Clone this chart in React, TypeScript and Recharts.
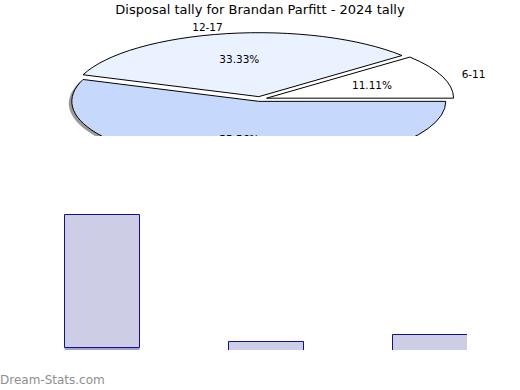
import { PieChart, Pie, BarChart, Bar, XAxis, YAxis } from 'recharts';

// pie: disposal count bins
const sliceNames = ['6-11', '12-17', '18-23'];
const sliceValues = [1, 3, 5];
const sliceColors = ['#ffffff', '#ebf2ff', '#c6d9fd'];

// bar panel (only its upper part shows in the picture)
const barNames = ['6-11', '12-17', '18-23'];
const barValues = [133, 39, 46];
const barBase = [33, 0, 0];

const pieData = sliceNames.map((name, i) => ({ name, value: sliceValues[i] }));
const barData = barNames.map((name, i) => ({ name, value: barValues[i], base: barBase[i] }));

const FONT = '"DejaVu Sans", Verdana, sans-serif';
const RAD = Math.PI / 180;
const K = 0.342; // vertical squash of the flat pie
const EXPLODE = 7;

const renderSlice = (props: any) => {
  const { cx, cy, startAngle, endAngle, midAngle, outerRadius, index, percent, name } = props;
  const ox = cx + EXPLODE * Math.cos(midAngle * RAD);
  const oy = cy - EXPLODE * K * Math.sin(midAngle * RAD);
  const pt = (x0: number, y0: number, r: number, a: number) => [x0 + r * Math.cos(a * RAD), y0 - r * K * Math.sin(a * RAD)];
  const path = (x0: number, y0: number) => {
    const [x1, y1] = pt(x0, y0, outerRadius, startAngle);
    const [x2, y2] = pt(x0, y0, outerRadius, endAngle);
    const large = Math.abs(endAngle - startAngle) > 180 ? 1 : 0;
    return `M${x0},${y0} L${x1},${y1} A${outerRadius},${outerRadius * K} 0 ${large} 0 ${x2},${y2} Z`;
  };
  const [ix, iy] = pt(ox, oy, outerRadius * 0.6, midAngle);
  const [tx, ty] = pt(ox, oy, outerRadius * 1.11, midAngle);
  const lower = midAngle > 180;
  return (
    <g key={`slice-${index}`}>
      {lower && <path d={path(ox - 3, oy + 2)} fill="#9a9a9a" stroke="none" />}
      <path d={path(ox, oy)} fill={sliceColors[index]} stroke="#000" strokeWidth={1} />
      <text x={ix} y={iy} textAnchor="middle" dominantBaseline="central" fontSize={10.5} fontFamily={FONT} fill="#000">
        {(percent * 100).toFixed(2)}%
      </text>
      <text x={tx} y={ty} textAnchor={Math.cos(midAngle * RAD) >= 0 ? 'start' : 'end'} dominantBaseline="central" fontSize={10.5} fontFamily={FONT} fill="#000">
        {name}
      </text>
    </g>
  );
};

export default function App() {
  return (
    <div style={{ position: 'absolute', left: 0, top: 0, width: 520, height: 390, background: '#fff', overflow: 'hidden', fontFamily: FONT }}>
      <div style={{ position: 'absolute', left: 0, top: 0, width: 467, height: 350, overflow: 'hidden' }}>
        <BarChart width={520} height={400} data={barData} margin={{ top: 180.5, right: 8.5, bottom: 19.5, left: 19.5 }}>
          <XAxis dataKey="name" hide />
          <YAxis hide domain={[0, 200]} />
          <Bar dataKey="base" stackId="a" fill="#a3a3cc" barSize={75} isAnimationActive={false} />
          <Bar dataKey="value" stackId="a" fill="#cdcde6" stroke="#101099" strokeWidth={1} barSize={75} isAnimationActive={false} />
        </BarChart>
      </div>
      <div style={{ position: 'absolute', left: 0, top: 0, width: 520, height: 136, overflow: 'hidden' }}>
        <PieChart width={520} height={136} margin={{ top: 0, right: 0, bottom: 0, left: 0 }}>
          <Pie
            data={pieData}
            dataKey="value"
            nameKey="name"
            cx={260}
            cy={99}
            outerRadius={187}
            startAngle={0}
            endAngle={360}
            fill="none"
            stroke="none"
            label={renderSlice}
            labelLine={false}
            isAnimationActive={false}
          />
        </PieChart>
      </div>
      <div style={{ position: 'absolute', left: 0, top: 2, width: 520, textAlign: 'center', fontSize: 13, lineHeight: '16px', color: '#000' }}>
        Disposal tally for Brandan Parfitt - 2024 tally
      </div>
      <div style={{ position: 'absolute', left: 0, top: 372, fontSize: 12, lineHeight: '16px', color: '#8f8f8f' }}>
        Dream-Stats.com
      </div>
    </div>
  );
}
